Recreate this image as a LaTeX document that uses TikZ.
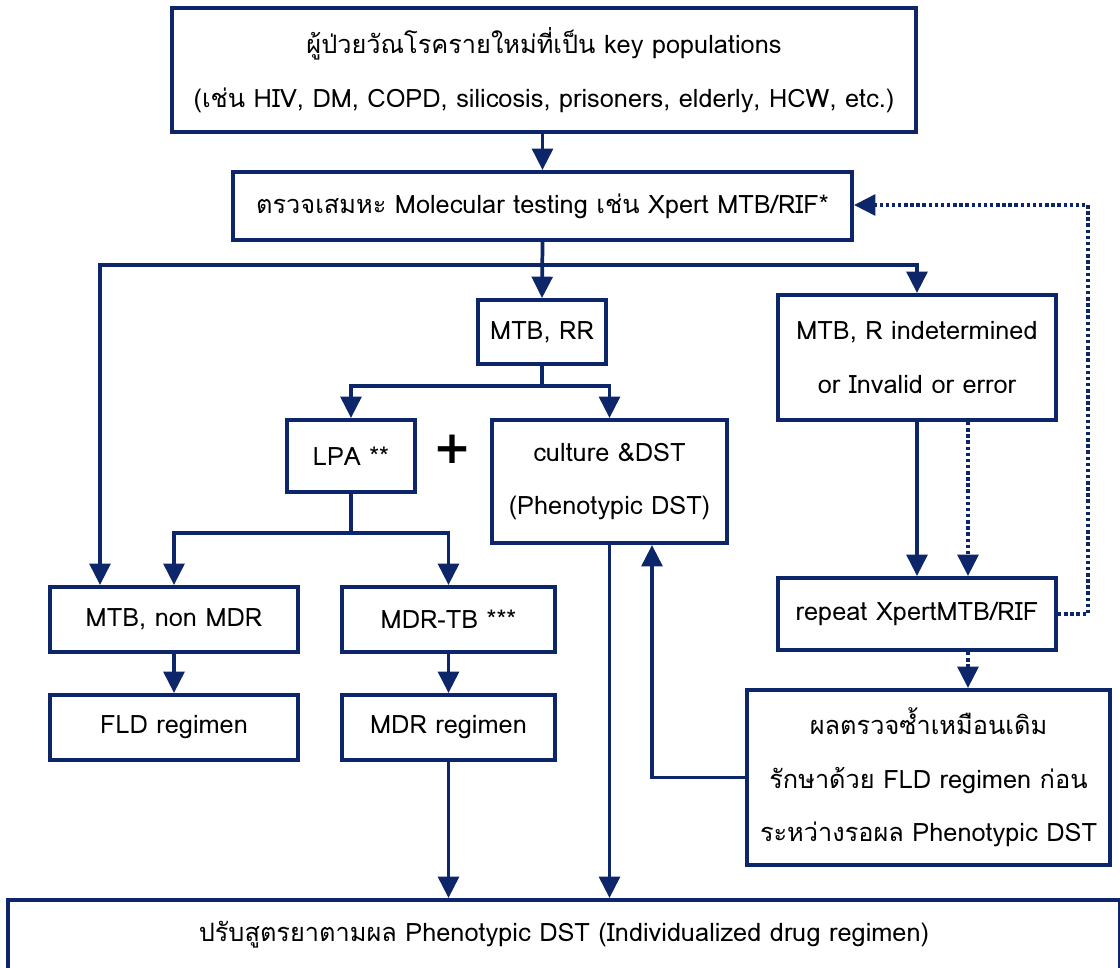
\documentclass[tikz,border=0pt]{standalone}
\usepackage{fontspec}
\setmainfont[Script=Thai]{Loma}
\newfontfamily\djv{DejaVu Sans}
\usetikzlibrary{arrows.meta}
\definecolor{navy}{RGB}{12,38,105}
\begin{document}
\begin{tikzpicture}[x=0.75pt,y=-0.75pt,
  bx/.style n args={2}{minimum width=#1*0.75pt, minimum height=#2*0.75pt},
  nd/.style={draw=navy, line width=3pt, inner sep=0pt, align=center, text=black,
             font=\fontsize{19pt}{40pt}\selectfont},
  arr/.style={draw=navy, line width=2.8pt, -{Triangle[length=16pt,width=15.5pt]}},
  ln/.style={draw=navy, line width=2.8pt},
  darr/.style={arr, dash pattern=on 2.6pt off 2pt},
  dln/.style={ln, dash pattern=on 2.6pt off 2pt}]
\useasboundingbox (0,0) rectangle (1120,967);
\fill[white] (0,0) rectangle (1120,967);
\clip (0,0) rectangle (1120,967);

% boxes
\node[nd, bx={744}{124}] (top) at (544,70) {ผู้ป่วยวัณโรครายใหม่ที่เป็น key populations\\(เช่น HIV, DM, COPD, silicosis, prisoners, elderly, HCW, etc.)};
\node[nd, bx={619}{68}] (mol) at (542.5,206) {ตรวจเสมหะ Molecular testing เช่น Xpert MTB/RIF*};
\node[nd, bx={128}{64}] (rr) at (542,332) {MTB, RR};
\node[nd, bx={128}{72}] (lpa) at (351,456) {LPA **};
\node[nd, bx={235}{123}] (cult) at (609.5,481.5) {culture \&DST\\(Phenotypic DST)};
\node[nd, bx={278}{125}] (ind) at (917,357.5) {MTB, R indetermined\\or Invalid or error};
\node[nd, bx={248}{65}] (nonmdr) at (174,619.5) {MTB, non MDR};
\node[nd, bx={213}{65}] (mdrtb) at (448.5,619.5) {MDR-TB ***};
\node[nd, bx={248}{65}] (fld) at (174,727.5) {FLD regimen};
\node[nd, bx={213}{65}] (mdrreg) at (448.5,727.5) {MDR regimen};
\node[nd, bx={278}{72}] (rep) at (917,614) {repeat XpertMTB/RIF};
\node[nd, bx={363}{175}] (res) at (928.5,777.5) {ผลตรวจซ้ำเหมือนเดิม\\รักษาด้วย FLD regimen ก่อน\\ระหว่างรอผล Phenotypic DST};
\node[nd, anchor=north, minimum width=1112*0.75pt, text height=31pt, text depth=50pt] (bot) at (564,898) {ปรับสูตรยาตามผล Phenotypic DST (Individualized drug regimen)};
\node[font=\djv\bfseries\fontsize{34pt}{34pt}\selectfont, inner sep=0pt] (plus) at (452,449) {+};

% coordinates
\coordinate (bL) at (100,265);
\coordinate (bR) at (917,265);
\coordinate (b2) at (542,386);
\coordinate (b3) at (351,533);
\coordinate (up) at (652,780);
\coordinate (d1) at (968,0);
\coordinate (d2) at (1088,205);

% connectors
\draw[arr] (mol.north |- top.south) -- (mol.north);
\draw[arr] (mol.south) -- (rr.north);
\draw[arr] (mol.south |- bL) -- (bL) -- (bL |- nonmdr.north);
\draw[arr] (mol.south |- bR) -- (bR) -- (ind.north);
\draw[ln] (rr.south) -- (b2);
\draw[arr] (b2) -| (lpa.north);
\draw[arr] (b2) -| (cult.north);
\draw[ln] (lpa.south) -- (b3);
\draw[arr] (b3) -| (nonmdr.north);
\draw[arr] (b3) -| (mdrtb.north);
\draw[arr] (nonmdr.south) -- (fld.north);
\draw[arr] (mdrtb.south) -- (mdrreg.north);
\draw[arr] (mdrreg.south) -- (mdrreg.south |- bot.north);
\draw[arr] (cult.south) -- (cult.south |- bot.north);
\draw[arr] (res.west) -| (cult.south -| up);
\draw[arr] (ind.south) -- (rep.north);
\draw[darr] (ind.south -| d1) -- (rep.north -| d1);
\draw[darr] (rep.south -| d1) -- (res.north -| d1);
\draw[darr] (rep.east) -| (d2) -- (mol.east |- d2);
\end{tikzpicture}
\end{document}
